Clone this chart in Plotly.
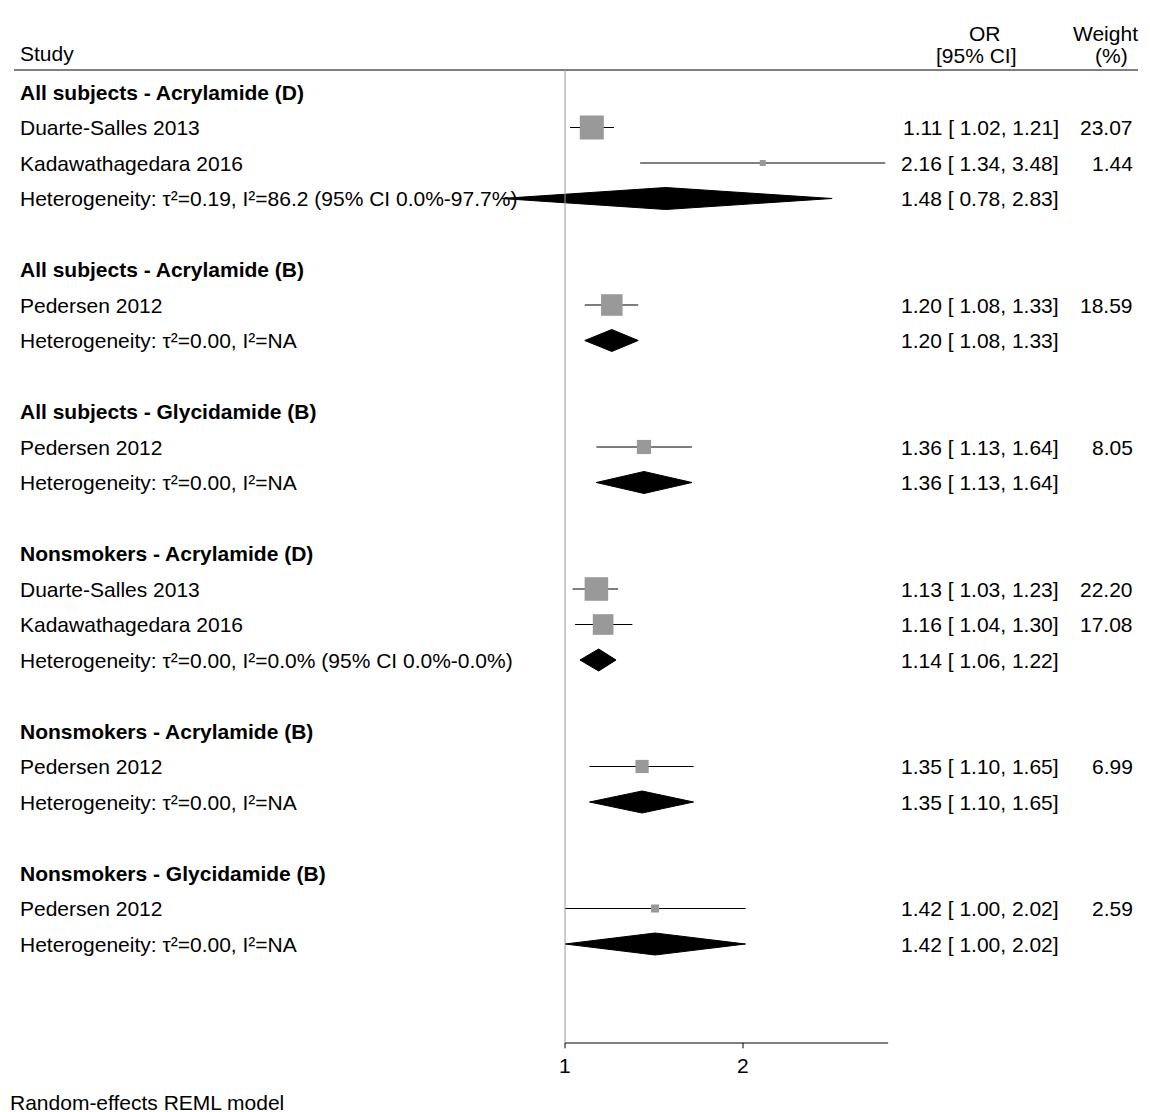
import numpy as np
import plotly.graph_objects as go

# row layout: groups with studies and pooled estimate
groups = ["All subjects - Acrylamide (D)", "All subjects - Acrylamide (B)",
          "All subjects - Glycidamide (B)", "Nonsmokers - Acrylamide (D)",
          "Nonsmokers - Acrylamide (B)", "Nonsmokers - Glycidamide (B)"]
studies = [["Duarte-Salles 2013", "Kadawathagedara 2016"], ["Pedersen 2012"], ["Pedersen 2012"],
           ["Duarte-Salles 2013", "Kadawathagedara 2016"], ["Pedersen 2012"], ["Pedersen 2012"]]
study_or = [[1.11, 2.16], [1.20], [1.36], [1.13, 1.16], [1.35], [1.42]]
study_lo = [[1.02, 1.34], [1.08], [1.13], [1.03, 1.04], [1.10], [1.00]]
study_hi = [[1.21, 3.48], [1.33], [1.64], [1.23, 1.30], [1.65], [2.02]]
weights = [[23.07, 1.44], [18.59], [8.05], [22.20, 17.08], [6.99], [2.59]]
het_text = ["Heterogeneity: τ²=0.19, I²=86.2 (95% CI 0.0%-97.7%)",
            "Heterogeneity: τ²=0.00, I²=NA", "Heterogeneity: τ²=0.00, I²=NA",
            "Heterogeneity: τ²=0.00, I²=0.0% (95% CI 0.0%-0.0%)",
            "Heterogeneity: τ²=0.00, I²=NA", "Heterogeneity: τ²=0.00, I²=NA"]
pool_or = [1.48, 1.20, 1.36, 1.14, 1.35, 1.42]
pool_lo = [0.78, 1.08, 1.13, 1.06, 1.10, 1.00]
pool_hi = [2.83, 1.33, 1.64, 1.22, 1.65, 2.02]

W, H = 1150, 1112
OFF = 8                            # page body margin
X0, XS = 565 - OFF, 178 / np.log(2)
Y0, YS = 92 - OFF, 35.5
xr = [(0 - X0) / XS, (W - X0) / XS]
yr = [(H - Y0) / YS, (0 - Y0) / YS]
FONT = "Liberation Sans, Arial"
FS = 21

fig = go.Figure()
ann = []
def txt(px, row, s, anchor="left", bold=False):
    ann.append(dict(x=(px - OFF) / W, xref="paper", y=row, yref="y", text=f"<b>{s}</b>" if bold else s,
                    showarrow=False, xanchor=anchor, yanchor="middle",
                    font=dict(size=FS, color="black", family=FONT)))

row = 0
sq_x, sq_y, sq_s = [], [], []
for g in range(len(groups)):
    txt(18, row, groups[g], bold=True)
    row += 1
    for s in range(len(studies[g])):
        o, l, h, w = study_or[g][s], study_lo[g][s], study_hi[g][s], weights[g][s]
        fig.add_trace(go.Scatter(x=[np.log(l), np.log(h)], y=[row, row], mode="lines",
                                 line=dict(color="black", width=1.2), showlegend=False))
        sq_x.append(np.log(o)); sq_y.append(row); sq_s.append(np.sqrt(w) * 5)
        txt(18, row, studies[g][s])
        txt(1061, row, f"{o:.2f} [ {l:.2f}, {h:.2f}]", anchor="right")
        txt(1135, row, f"{w:.2f}", anchor="right")
        row += 1
    o, l, h = pool_or[g], pool_lo[g], pool_hi[g]
    fig.add_trace(go.Scatter(x=[np.log(l), np.log(o), np.log(h), np.log(o), np.log(l)],
                             y=[row, row - 0.31, row, row + 0.31, row], mode="lines",
                             fill="toself", fillcolor="black", line=dict(color="black", width=1),
                             showlegend=False))
    txt(18, row, het_text[g])
    txt(1061, row, f"{o:.2f} [ {l:.2f}, {h:.2f}]", anchor="right")
    row += 2

fig.add_trace(go.Scatter(x=sq_x, y=sq_y, mode="markers", showlegend=False,
                         marker=dict(symbol="square", size=sq_s, color="#999999", opacity=1,
                                     line=dict(width=0))))

# header and axis
axis_row = (1043 - 92) / YS
top_row = (70 - 92) / YS
shapes = [
    dict(type="line", xref="paper", x0=(14 - OFF) / W, x1=(1138 - OFF) / W, yref="y", y0=top_row, y1=top_row,
         line=dict(color="black", width=1)),
    dict(type="line", x0=0, x1=0, y0=top_row, y1=axis_row, line=dict(color="#999999", width=1)),
    dict(type="line", x0=0, x1=np.log(3.52), y0=axis_row, y1=axis_row, line=dict(color="black", width=1)),
]
for t in [1, 2]:
    shapes.append(dict(type="line", x0=np.log(t), x1=np.log(t), y0=axis_row, y1=axis_row + 0.15,
                       line=dict(color="black", width=1)))
    ann.append(dict(x=np.log(t), y=axis_row + 0.62, text=str(t), showarrow=False,
                    font=dict(size=FS, color="black", family=FONT)))
txt(18, (53 - 92) / YS, "Study")
txt(985, (33 - 92) / YS, "OR", anchor="center")
txt(976, (55 - 92) / YS, "[95% CI]", anchor="center")
txt(1105, (33 - 92) / YS, "Weight", anchor="center")
txt(1111, (55 - 92) / YS, "(%)", anchor="center")
txt(8, (1102 - 92) / YS, "Random-effects REML model")

fig.update_layout(width=W, height=H, margin=dict(l=0, r=0, t=0, b=0),
                  plot_bgcolor="white", paper_bgcolor="white",
                  xaxis=dict(range=xr, visible=False, fixedrange=True),
                  yaxis=dict(range=yr, visible=False),
                  shapes=shapes, annotations=ann)
fig.write_html("out.html")
